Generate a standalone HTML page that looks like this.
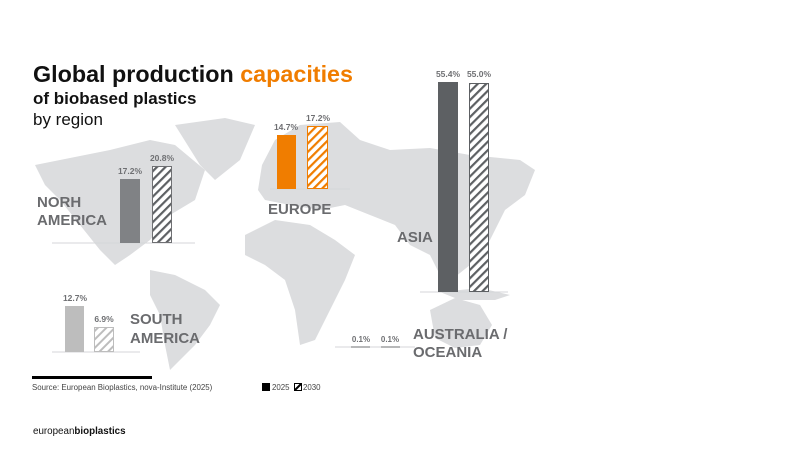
<!DOCTYPE html>
<html><head><meta charset="utf-8"><style>
body{margin:0;background:#fff}
svg{display:block;font-family:"Liberation Sans",sans-serif}
</style></head><body>
<svg width="800" height="450" viewBox="0 0 800 450">
<defs>
<pattern id="h" width="6" height="6" patternUnits="userSpaceOnUse" patternTransform="rotate(45)"><rect width="6" height="6" fill="#fff"/><rect width="2.2" height="6" fill="#5d6063"/></pattern>
<pattern id="ho" width="6" height="6" patternUnits="userSpaceOnUse" patternTransform="rotate(45)"><rect width="6" height="6" fill="#fff"/><rect width="2.2" height="6" fill="#f07d00"/></pattern>
<pattern id="hl" width="6" height="6" patternUnits="userSpaceOnUse" patternTransform="rotate(45)"><rect width="6" height="6" fill="#fff"/><rect width="2" height="6" fill="#bdbdbd"/></pattern>
</defs>
<g fill="#dcdddf">
<path d="M35 165 L70 158 L110 150 L150 140 L175 145 L205 170 L195 200 L170 215 L150 240 L130 255 L115 265 L100 250 L80 225 L60 200 L45 185Z"/>
<path d="M175 125 L225 118 L255 125 L240 160 L215 180 L200 165Z"/>
<path d="M150 270 L175 275 L205 290 L220 305 L210 325 L195 345 L180 360 L170 370 L165 345 L160 315 L150 295Z"/>
<path d="M258 190 L262 165 L275 140 L300 125 L340 122 L360 140 L390 150 L430 148 L470 155 L520 160 L535 170 L525 195 L505 210 L490 240 L470 265 L445 285 L430 255 L410 245 L395 225 L370 215 L345 205 L320 210 L290 205 L265 200Z"/>
<path d="M245 235 L275 220 L310 225 L335 240 L355 255 L345 280 L330 310 L315 340 L300 345 L295 310 L285 280 L265 265 L245 255Z"/>
<path d="M440 292 L480 288 L510 295 L495 300 L460 300Z"/>
<path d="M430 310 L455 298 L480 305 L492 325 L480 345 L455 348 L435 338Z"/>
</g>
<text x="33" y="82" font-size="23" font-weight="bold" fill="#111" textLength="320" lengthAdjust="spacingAndGlyphs">Global production <tspan fill="#f07d00">capacities</tspan></text>
<text x="33" y="104" font-size="17" font-weight="bold" fill="#111">of biobased plastics</text>
<text x="33" y="125" font-size="17" fill="#111">by region</text>
<line x1="52" y1="243" x2="195" y2="243" stroke="#d5d6d8" stroke-width="1"/>
<rect x="120" y="179" width="20" height="64" fill="#808285"/>
<rect x="152.5" y="166.5" width="19" height="76" fill="url(#h)" stroke="#6f7073"/>
<text x="130" y="174" font-size="8.5" font-weight="bold" fill="#6f7073" text-anchor="middle">17.2%</text>
<text x="162" y="161" font-size="8.5" font-weight="bold" fill="#6f7073" text-anchor="middle">20.8%</text>
<text x="37" y="207" font-size="15" font-weight="bold" fill="#6a6b6e">NORH</text>
<text x="37" y="225" font-size="15" font-weight="bold" fill="#6a6b6e">AMERICA</text>
<line x1="270" y1="189" x2="350" y2="189" stroke="#d5d6d8"/>
<rect x="277" y="135" width="19" height="54" fill="#f07d00"/>
<rect x="307.5" y="126.5" width="20" height="62" fill="url(#ho)" stroke="#f07d00"/>
<text x="286" y="130" font-size="8.5" font-weight="bold" fill="#6f7073" text-anchor="middle">14.7%</text>
<text x="318" y="121" font-size="8.5" font-weight="bold" fill="#6f7073" text-anchor="middle">17.2%</text>
<text x="268" y="214" font-size="15" font-weight="bold" fill="#6a6b6e">EUROPE</text>
<line x1="420" y1="292" x2="508" y2="292" stroke="#d5d6d8"/>
<rect x="438" y="82" width="20" height="210" fill="#5d6063"/>
<rect x="469.5" y="83.5" width="19" height="208" fill="url(#h)" stroke="#5d6063"/>
<text x="448" y="77" font-size="8.5" font-weight="bold" fill="#6f7073" text-anchor="middle">55.4%</text>
<text x="479" y="77" font-size="8.5" font-weight="bold" fill="#6f7073" text-anchor="middle">55.0%</text>
<text x="397" y="242" font-size="15" font-weight="bold" fill="#6a6b6e">ASIA</text>
<line x1="52" y1="352" x2="140" y2="352" stroke="#d5d6d8"/>
<rect x="65" y="306" width="19" height="46" fill="#bdbdbd"/>
<rect x="94.5" y="327.5" width="19" height="24" fill="url(#hl)" stroke="#bdbdbd"/>
<text x="75" y="301" font-size="8.5" font-weight="bold" fill="#6f7073" text-anchor="middle">12.7%</text>
<text x="104" y="322" font-size="8.5" font-weight="bold" fill="#6f7073" text-anchor="middle">6.9%</text>
<text x="130" y="324" font-size="15" font-weight="bold" fill="#6a6b6e">SOUTH</text>
<text x="130" y="343" font-size="15" font-weight="bold" fill="#6a6b6e">AMERICA</text>
<line x1="335" y1="347" x2="415" y2="347" stroke="#d5d6d8"/>
<line x1="351" y1="347" x2="370" y2="347" stroke="#6f7073"/>
<line x1="381" y1="347" x2="400" y2="347" stroke="#6f7073"/>
<text x="361" y="342" font-size="8" font-weight="bold" fill="#6f7073" text-anchor="middle">0.1%</text>
<text x="390" y="342" font-size="8" font-weight="bold" fill="#6f7073" text-anchor="middle">0.1%</text>
<text x="413" y="339" font-size="15" font-weight="bold" fill="#6a6b6e">AUSTRALIA /</text>
<text x="413" y="357" font-size="15" font-weight="bold" fill="#6a6b6e">OCEANIA</text>
<rect x="32" y="376" width="120" height="3" fill="#000"/>
<text x="32" y="390" font-size="7.9" fill="#444">Source: European Bioplastics, nova-Institute (2025)</text>
<rect x="262" y="383" width="8" height="8" fill="#000"/>
<text x="272" y="390" font-size="7.9" fill="#444">2025</text>
<rect x="294.5" y="383.5" width="7" height="7" fill="#fff" stroke="#000"/>
<line x1="295" y1="390" x2="301" y2="384" stroke="#000" stroke-width="2"/>
<text x="303" y="390" font-size="7.9" fill="#444">2030</text>
<text x="33" y="434" font-size="9.8" fill="#111">european<tspan font-weight="bold">bioplastics</tspan></text>
</svg>
</body></html>
